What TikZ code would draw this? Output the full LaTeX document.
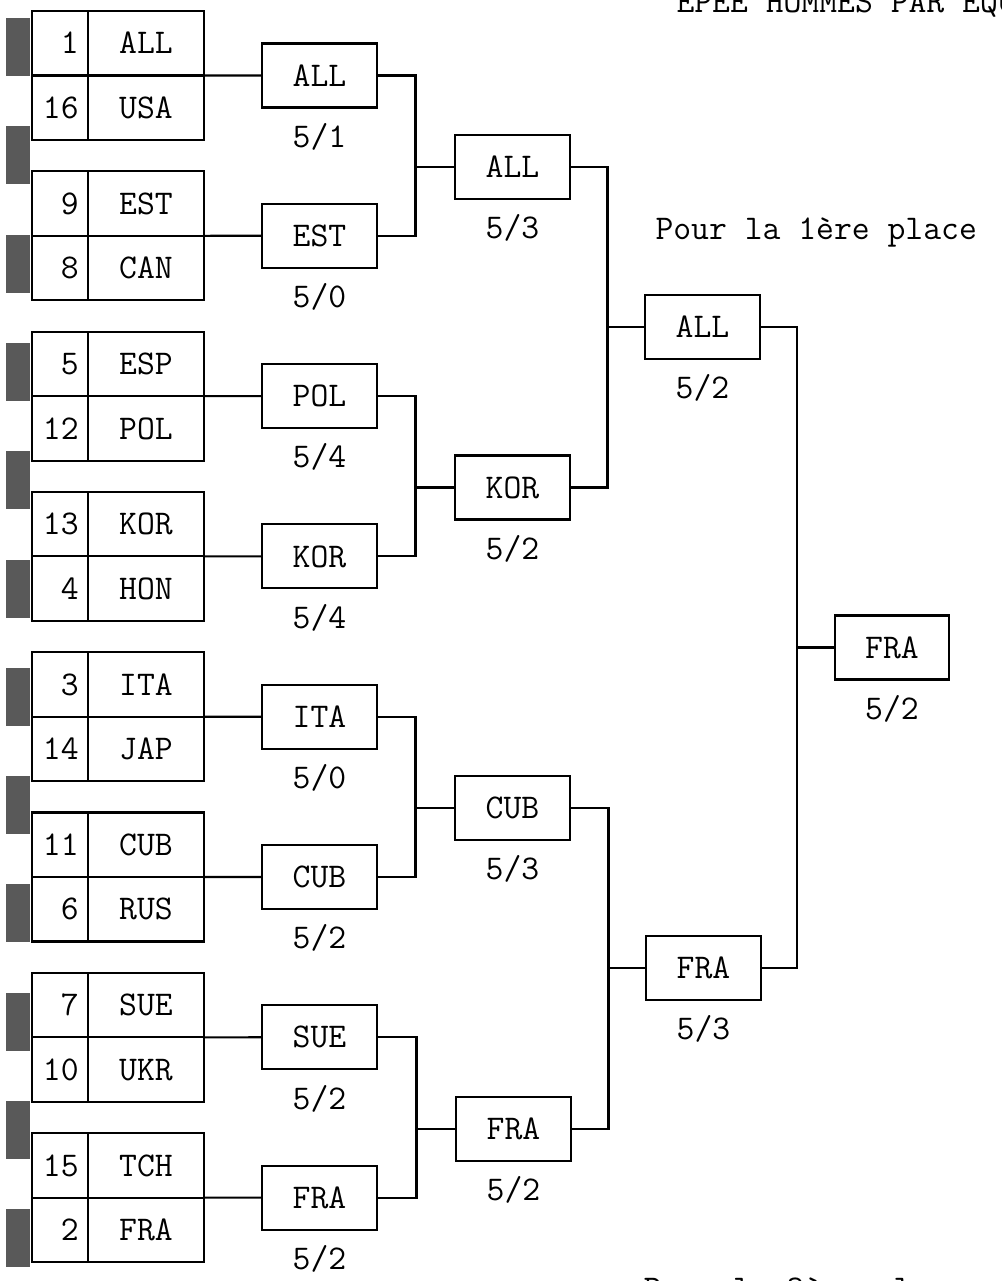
\documentclass[tikz,border=0pt]{standalone}
\usepackage{tikz}
\usetikzlibrary{positioning}

\begin{document}
\begin{tikzpicture}[x=0.75pt, y=-0.75pt, line width=1.6pt,
  every node/.style={font=\ttfamily\fontsize{26}{30}\selectfont, text height=16pt, text depth=0pt},
  seedcell/.style={draw, outer sep=0pt, inner xsep=7pt, inner ysep=0pt, text width=28pt, align=right, minimum height=48.4pt},
  teamcell/.style={draw, outer sep=0pt, inner sep=0pt, minimum width=87pt, minimum height=48.4pt},
  winbox/.style={draw, outer sep=0pt, inner sep=0pt, minimum width=86pt, minimum height=48pt},
  score/.style={inner sep=0pt},
  holebar/.style={fill=black!65, draw=none}]

  \useasboundingbox (0,0) rectangle (1002,1281);
  \clip (0,0) rectangle (1002,1281);

  % binding marks on the left edge
  \foreach \t in {18,126.3,234.6,342.9,451.2,559.5,667.8,776.1,884.4,992.7,1101,1209.3}
    \fill [holebar] (6,\t) rectangle (30,\t+58);

  % first round
  \node [seedcell] at (60,43.25) (sd1) {1};
  \node [seedcell] at (60,107.75) (sd16) {16};
  \node [seedcell] at (60,203.55) (sd9) {9};
  \node [seedcell] at (60,268.05) (sd8) {8};
  \node [seedcell] at (60,363.85) (sd5) {5};
  \node [seedcell] at (60,428.35) (sd12) {12};
  \node [seedcell] at (60,524.15) (sd13) {13};
  \node [seedcell] at (60,588.65) (sd4) {4};
  \node [seedcell] at (60,684.45) (sd3) {3};
  \node [seedcell] at (60,748.95) (sd14) {14};
  \node [seedcell] at (60,844.75) (sd11) {11};
  \node [seedcell] at (60,909.25) (sd6) {6};
  \node [seedcell] at (60,1005.05) (sd7) {7};
  \node [seedcell] at (60,1069.55) (sd10) {10};
  \node [seedcell] at (60,1165.35) (sd15) {15};
  \node [seedcell] at (60,1229.85) (sd2) {2};

  \node [teamcell, right=0pt of sd1] (all) {ALL};
  \node [teamcell, right=0pt of sd16] (usa) {USA};
  \node [teamcell, right=0pt of sd9] (est) {EST};
  \node [teamcell, right=0pt of sd8] (can) {CAN};
  \node [teamcell, right=0pt of sd5] (esp) {ESP};
  \node [teamcell, right=0pt of sd12] (pol) {POL};
  \node [teamcell, right=0pt of sd13] (kor) {KOR};
  \node [teamcell, right=0pt of sd4] (hon) {HON};
  \node [teamcell, right=0pt of sd3] (ita) {ITA};
  \node [teamcell, right=0pt of sd14] (jap) {JAP};
  \node [teamcell, right=0pt of sd11] (cub) {CUB};
  \node [teamcell, right=0pt of sd6] (rus) {RUS};
  \node [teamcell, right=0pt of sd7] (sue) {SUE};
  \node [teamcell, right=0pt of sd10] (ukr) {UKR};
  \node [teamcell, right=0pt of sd15] (tch) {TCH};
  \node [teamcell, right=0pt of sd2] (fra) {FRA};

  % second round
  \node [winbox] at (319.5,75.5) (q1) {ALL};
  \node [winbox] at (319.5,235.8) (q2) {EST};
  \node [winbox] at (319.5,396.1) (q3) {POL};
  \node [winbox] at (319.5,556.4) (q4) {KOR};
  \node [winbox] at (319.5,716.7) (q5) {ITA};
  \node [winbox] at (319.5,877) (q6) {CUB};
  \node [winbox] at (319.5,1037.3) (q7) {SUE};
  \node [winbox] at (319.5,1197.6) (q8) {FRA};

  \node [score, below=13pt of q1] (sq1) {5/1};
  \node [score, below=13pt of q2] (sq2) {5/0};
  \node [score, below=13pt of q3] (sq3) {5/4};
  \node [score, below=13pt of q4] (sq4) {5/4};
  \node [score, below=13pt of q5] (sq5) {5/0};
  \node [score, below=13pt of q6] (sq6) {5/2};
  \node [score, below=13pt of q7] (sq7) {5/2};
  \node [score, below=13pt of q8] (sq8) {5/2};

  % quarter finals
  \node [winbox] at (512.5,167) (h1) {ALL};
  \node [winbox] at (512.5,487.5) (h2) {KOR};
  \node [winbox] at (512.5,808) (h3) {CUB};
  \node [winbox] at (513.5,1129) (h4) {FRA};

  \node [score, below=13pt of h1] (sh1) {5/3};
  \node [score, below=13pt of h2] (sh2) {5/2};
  \node [score, below=13pt of h3] (sh3) {5/3};
  \node [score, below=13pt of h4] (sh4) {5/2};

  % semi finals and final
  \node [winbox] at (702.5,327) (f1) {ALL};
  \node [winbox] at (703.5,968) (f2) {FRA};
  \node [winbox] at (892,647.5) (w) {FRA};

  \node [score, below=13pt of f1] (sf1) {5/2};
  \node [score, below=13pt of f2] (sf2) {5/3};
  \node [score, below=13pt of w] (sw) {5/2};

  \node [anchor=base west, text height=, text depth=] at (671,13) (title) {EPEE HOMMES PAR EQUIPES};
  \node [anchor=base west, text height=, text depth=] at (650,239) (first) {Pour la 1ère place};
  \node [anchor=base west, text height=, text depth=] at (638,1299) (third) {Pour la 3ème place};

  % junctions
  \coordinate (j1) at (415.5,167);
  \coordinate (j2) at (415.5,487.5);
  \coordinate (j3) at (415.5,808);
  \coordinate (j4) at (416.5,1129);
  \coordinate (k1) at (607.5,327);
  \coordinate (k2) at (608.5,968);
  \coordinate (m1) at (797,647.5);

  \draw (all.south east) -- (q1.west);
  \draw (est.south east) -- (q2.west);
  \draw (esp.south east) -- (q3.west);
  \draw (kor.south east) -- (q4.west);
  \draw (ita.south east) -- (q5.west);
  \draw (cub.south east) -- (q6.west);
  \draw (sue.south east) -- (q7.west);
  \draw (tch.south east) -- (q8.west);

  \draw (q1.east) -| (j1) |- (q2.east);
  \draw (q3.east) -| (j2) |- (q4.east);
  \draw (q5.east) -| (j3) |- (q6.east);
  \draw (q7.east) -| (j4) |- (q8.east);
  \draw (j1) -- (h1.west);
  \draw (j2) -- (h2.west);
  \draw (j3) -- (h3.west);
  \draw (j4) -- (h4.west);

  \draw (h1.east) -| (k1) |- (h2.east);
  \draw (h3.east) -| (k2) |- (h4.east);
  \draw (k1) -- (f1.west);
  \draw (k2) -- (f2.west);

  \draw (f1.east) -| (m1) |- (f2.east);
  \draw (m1) -- (w.west);

\end{tikzpicture}
\end{document}
